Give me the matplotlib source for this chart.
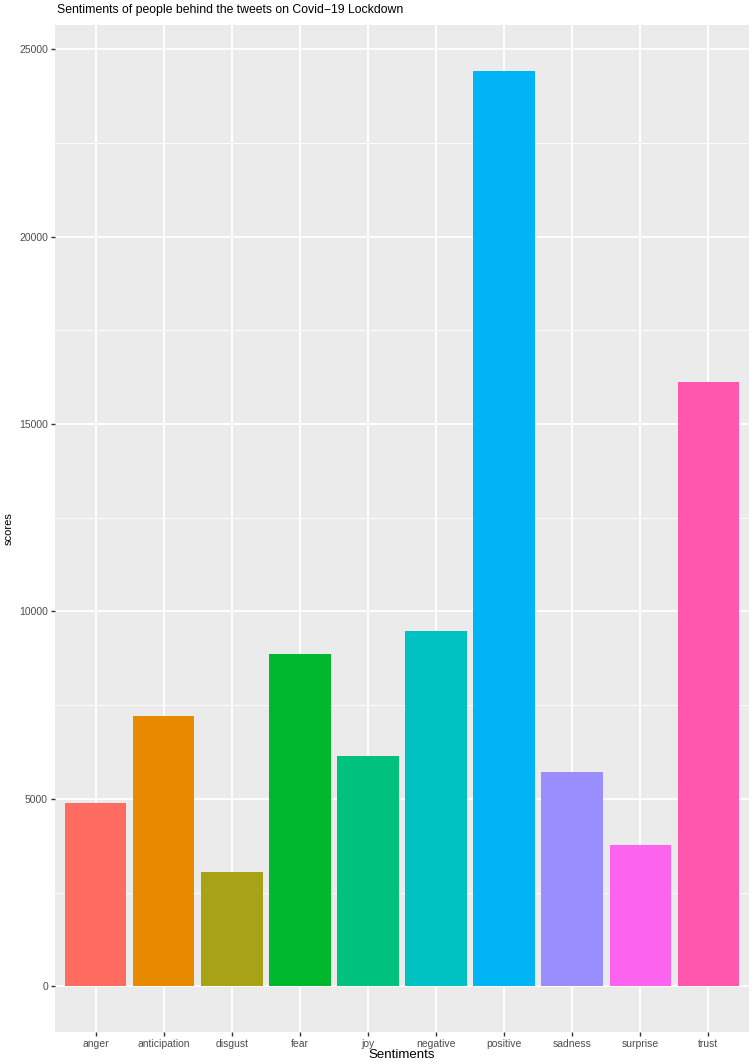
import matplotlib
matplotlib.use("Agg")
import matplotlib.pyplot as plt
from matplotlib.ticker import MultipleLocator

plt.rcParams['font.family'] = ['Liberation Sans', 'DejaVu Sans']

sentiments = ['anger', 'anticipation', 'disgust', 'fear', 'joy',
              'negative', 'positive', 'sadness', 'surprise', 'trust']
scores = [4890, 7210, 3040, 8860, 6140, 9480, 24430, 5710, 3760, 16130]
colors = ['#FF6B61', '#E88A00', '#A8A216', '#00B82E', '#00C27D',
          '#00C2C2', '#00B4F6', '#9A8EFF', '#FC63EE', '#FF56AE']

fig = plt.figure(figsize=(7.54, 10.64), dpi=100)
ax = fig.add_axes([0.0729, 0.0301, 0.9205, 0.9464])
ax.set_facecolor('#EBEBEB')

x = list(range(1, len(sentiments) + 1))
ax.bar(x, scores, width=0.9, color=colors, zorder=3)

ax.set_xlim(0.4, 10.6)
top = max(scores) * 1.05
ax.set_ylim(-max(scores) * 0.05, top)
ax.set_xticks(x)
ax.set_xticklabels(sentiments)
ax.yaxis.set_major_locator(MultipleLocator(5000))
ax.yaxis.set_minor_locator(MultipleLocator(2500))

ax.grid(which='major', color='white', linewidth=1.3, zorder=0)
ax.grid(which='minor', axis='y', color='white', linewidth=0.6, zorder=0)
ax.tick_params(which='minor', length=0)
ax.tick_params(which='major', length=3, width=1, color='#333333',
               labelsize=7.5, labelcolor='#4D4D4D', pad=2)
for s in ax.spines.values():
    s.set_visible(False)

ax.set_xlabel('Sentiments', fontsize=9.5, labelpad=0)
ax.set_ylabel('scores', fontsize=8, labelpad=4)
fig.text(0.0756, 0.9905, 'Sentiments of people behind the tweets on Covid\u221219 Lockdown',
         fontsize=8.8, ha='left', va='center')

fig.savefig('out.png', dpi=100)
